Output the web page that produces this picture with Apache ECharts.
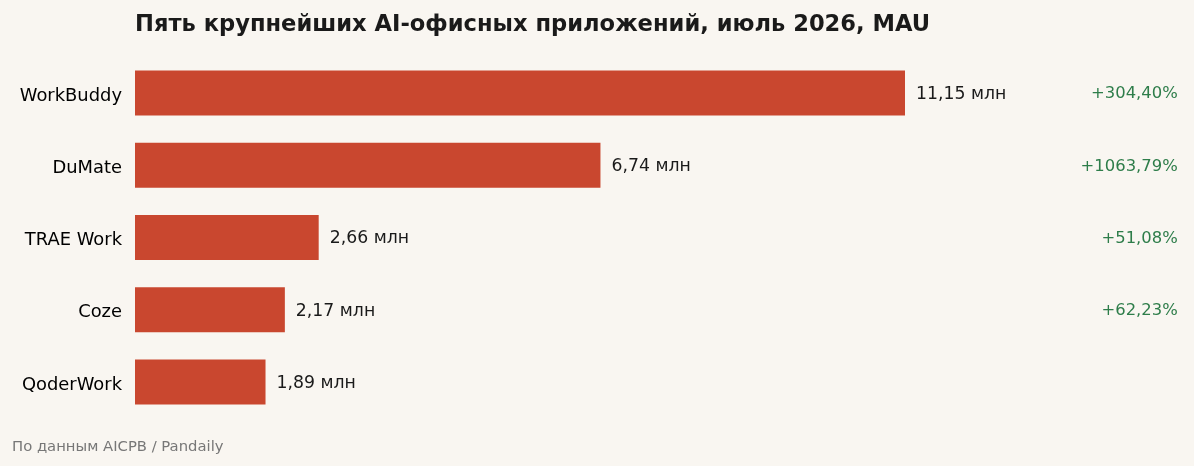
<!DOCTYPE html>
<html>
<head>
<meta charset="utf-8">
<script src="https://cdn.jsdelivr.net/npm/echarts@6/dist/echarts.min.js"></script>
<style>
html,body{margin:0;padding:0;background:#f9f6f1;}
#chart{width:1194px;height:466px;}
</style>
</head>
<body>
<div id="chart"></div>
<script>
// данные
var apps = ['WorkBuddy', 'DuMate', 'TRAE Work', 'Coze', 'QoderWork'];
var mau = [11.15, 6.74, 2.66, 2.17, 1.89];
var growth = ['+304,40%', '+1063,79%', '+51,08%', '+62,23%', ''];

var font = 'DejaVu Sans';
var myChart = echarts.init(document.getElementById('chart'));
var option = {
	backgroundColor : '#f9f6f1',
	animation : false,
	title : {
		text : 'Пять крупнейших AI-офисных приложений, июль 2026, MAU',
		left : 130,
		top : 9,
		textStyle : {fontFamily : font, fontSize : 22.6, fontWeight : 'bold', color : '#1a1a1a'}
	},
	graphic : [{
		type : 'text',
		left : 12,
		top : 440,
		style : {text : 'По данным AICPB / Pandaily', font : '14.8px "DejaVu Sans"', fill : '#777777'}
	}],
	grid : {left : 135, top : 57, width : 828.7, height : 361},
	xAxis : {
		type : 'value',
		min : 0,
		max : 12,
		show : false
	},
	yAxis : [{
		type : 'category',
		data : apps,
		inverse : true,
		axisLine : {show : false},
		axisTick : {show : false},
		axisLabel : {
			margin : 13,
			formatter : function(v){ return '{a|' + v + '}'; },
			rich : {a : {padding : [6, 0, 0, 0], fontFamily : font, fontSize : 17.9, color : '#000000'}}
		}
	}, {
		type : 'category',
		data : growth,
		inverse : true,
		position : 'right',
		axisLine : {show : false},
		axisTick : {show : false},
		axisLabel : {
			margin : 214,
			align : 'right',
			formatter : function(v){ return v ? '{g|' + v + '}' : ''; },
			rich : {g : {padding : [2, 0, 0, 0], fontFamily : font, fontSize : 16.4, color : '#2e7d4a'}}
		}
	}],
	series : [{
		type : 'bar',
		data : mau,
		barWidth : 45,
		itemStyle : {color : '#c9472f'},
		label : {
			show : true,
			position : 'right',
			distance : 11,
			formatter : function(p){
				return '{v|' + p.value.toFixed(2).replace('.', ',') + ' млн}';
			},
			rich : {v : {padding : [3, 0, 0, 0], fontFamily : font, fontSize : 17.3, color : '#1a1a1a'}}
		}
	}]
};
myChart.setOption(option);
</script>
</body>
</html>
